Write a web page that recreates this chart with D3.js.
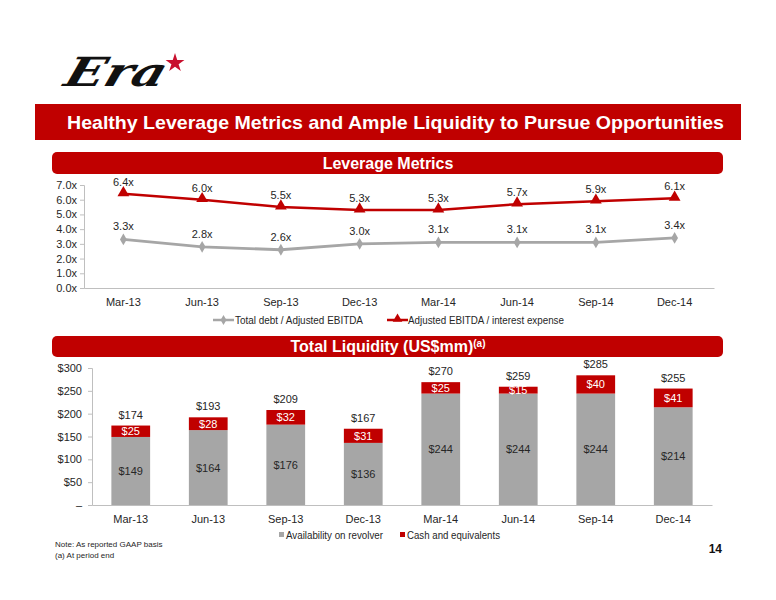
<!DOCTYPE html>
<html><head><meta charset="utf-8">
<script src="https://cdnjs.cloudflare.com/ajax/libs/d3/7.8.5/d3.min.js"></script>
<style>
body{margin:0;background:#fff;}
svg{display:block;font-family:"Liberation Sans",Arial,sans-serif;}
</style></head>
<body>
<svg id="c" width="776" height="600"></svg>
<script>
// ---- data ----
const categories = ["Mar-13","Jun-13","Sep-13","Dec-13","Mar-14","Jun-14","Sep-14","Dec-14"];
const debtToEbitda = [3.3,2.8,2.6,3.0,3.1,3.1,3.1,3.4];
const ebitdaToInterest = [6.4,6.0,5.5,5.3,5.3,5.7,5.9,6.1];
const leverageTicks = [0,1,2,3,4,5,6,7];
const revolver = [149,164,176,136,244,244,244,214];
const cash = [25,28,32,31,25,15,40,41];
const totalLiquidity = [174,193,209,167,270,259,285,255];
const liquidityTicks = [0,50,100,150,200,250,300];

const RED = "#c00000", GRAY = "#a6a6a6", TXT = "#262626";
const svg = d3.select("#c");

// ---- logo ----
const logo = svg.append("g");
logo.append("text").attr("x",62).attr("y",86)
  .attr("font-family","DejaVu Serif").attr("font-style","italic").attr("font-weight","bold")
  .attr("font-size",40).attr("textLength",100).attr("lengthAdjust","spacingAndGlyphs")
  .attr("transform","skewX(-18) translate(28,0)")
  .attr("fill","#111").text("Era");
logo.append("path").attr("d",d3.symbol(d3.symbolStar,110)())
  .attr("transform","translate(175,63)").attr("fill","#c8102e");

// ---- title bar ----
svg.append("rect").attr("x",35).attr("y",104).attr("width",706).attr("height",36).attr("fill",RED);
svg.append("text").attr("x",67).attr("y",129).attr("fill","#fff").attr("font-weight","bold")
  .attr("font-size",19).attr("textLength",657).attr("lengthAdjust","spacingAndGlyphs")
  .text("Healthy Leverage Metrics and Ample Liquidity to Pursue Opportunities");

// ---- section headers ----
function header(y, h){
  svg.append("rect").attr("x",52).attr("y",y).attr("width",671).attr("height",h).attr("rx",5).attr("fill",RED);
}
header(152,22);
svg.append("text").attr("x",388).attr("y",169).attr("text-anchor","middle").attr("fill","#fff")
  .attr("font-weight","bold").attr("font-size",16).text("Leverage Metrics");
header(336,21);
const t2 = svg.append("text").attr("x",388).attr("y",352).attr("text-anchor","middle").attr("fill","#fff")
  .attr("font-weight","bold").attr("font-size",16);
t2.append("tspan").text("Total Liquidity (US$mm)");
t2.append("tspan").attr("font-size",10).attr("dy",-5).text("(a)");

// ---- leverage chart ----
const x1 = d3.scaleBand().domain(categories).range([84,714]);
const y1 = d3.scaleLinear().domain([0,7]).range([288,185]);
const cx1 = d => x1(d) + x1.bandwidth()/2;

const ax1 = svg.append("g").attr("transform","translate(84,0)")
  .call(d3.axisLeft(y1).tickValues(leverageTicks).tickSize(4).tickPadding(3).tickFormat(d=>d3.format(".1f")(d)+"x"));
ax1.select(".domain").attr("stroke","#bfbfbf");
ax1.selectAll(".tick line").attr("stroke","#bfbfbf");
ax1.selectAll("text").attr("font-size",11).attr("fill",TXT).attr("font-family","Liberation Sans");

const bx1 = svg.append("g").attr("transform","translate(0,288)")
  .call(d3.axisBottom(x1).tickSize(0).tickPadding(10));
bx1.select(".domain").attr("stroke","#bfbfbf");
bx1.selectAll("text").attr("font-size",11).attr("fill",TXT).attr("font-family","Liberation Sans");

const line = (vals) => d3.line().x((d,i)=>cx1(categories[i])).y(d=>y1(d))(vals);
svg.append("path").attr("d",line(debtToEbitda)).attr("fill","none").attr("stroke",GRAY).attr("stroke-width",2.8);
svg.append("path").attr("d",line(ebitdaToInterest)).attr("fill","none").attr("stroke",RED).attr("stroke-width",2.5);

svg.selectAll(".dm").data(debtToEbitda).join("path")
  .attr("d",d3.symbol(d3.symbolDiamond,40)())
  .attr("transform",(d,i)=>`translate(${cx1(categories[i])},${y1(d)})`).attr("fill",GRAY);
svg.selectAll(".tr").data(ebitdaToInterest).join("path")
  .attr("d",d3.symbol(d3.symbolTriangle,60)())
  .attr("transform",(d,i)=>`translate(${cx1(categories[i])},${y1(d)-1})`).attr("fill",RED);

svg.selectAll(".lg").data(debtToEbitda).join("text")
  .attr("x",(d,i)=>cx1(categories[i])).attr("y",d=>y1(d)-9)
  .attr("text-anchor","middle").attr("font-size",11).attr("fill",TXT).text(d=>d3.format(".1f")(d)+"x");
svg.selectAll(".lr").data(ebitdaToInterest).join("text")
  .attr("x",(d,i)=>cx1(categories[i])).attr("y",d=>y1(d)-8)
  .attr("text-anchor","middle").attr("font-size",11).attr("fill",TXT).text(d=>d3.format(".1f")(d)+"x");

// legend 1
svg.append("line").attr("x1",213).attr("x2",234).attr("y1",320).attr("y2",320).attr("stroke",GRAY).attr("stroke-width",2.5);
svg.append("path").attr("d",d3.symbol(d3.symbolDiamond,30)()).attr("transform","translate(223.5,320)").attr("fill",GRAY);
svg.append("text").attr("x",235).attr("y",324).attr("font-size",10.5).attr("fill",TXT)
  .attr("textLength",128).attr("lengthAdjust","spacingAndGlyphs").text("Total debt / Adjusted EBITDA");
svg.append("line").attr("x1",387).attr("x2",408).attr("y1",320).attr("y2",320).attr("stroke",RED).attr("stroke-width",2.5);
svg.append("path").attr("d",d3.symbol(d3.symbolTriangle,40)()).attr("transform","translate(397.5,319)").attr("fill",RED);
svg.append("text").attr("x",408).attr("y",324).attr("font-size",10.5).attr("fill",TXT)
  .attr("textLength",156).attr("lengthAdjust","spacingAndGlyphs").text("Adjusted EBITDA / interest expense");

// ---- liquidity chart ----
const x2 = d3.scaleBand().domain(categories).range([92,712]).paddingInner(0.5).paddingOuter(0.25);
const y2 = d3.scaleLinear().domain([0,300]).range([505,368]);

const ax2 = svg.append("g").attr("transform","translate(92,0)")
  .call(d3.axisLeft(y2).tickValues(liquidityTicks).tickSize(4).tickPadding(6).tickFormat(d=>d===0?"–":"$"+d));
ax2.select(".domain").attr("stroke","#bfbfbf");
ax2.selectAll(".tick line").attr("stroke","#bfbfbf");
ax2.selectAll("text").attr("font-size",11).attr("fill",TXT).attr("font-family","Liberation Sans");

svg.selectAll(".bg").data(revolver).join("rect")
  .attr("x",(d,i)=>x2(categories[i])).attr("width",x2.bandwidth())
  .attr("y",d=>y2(d)).attr("height",d=>y2(0)-y2(d)).attr("fill",GRAY);
svg.selectAll(".br").data(cash).join("rect")
  .attr("x",(d,i)=>x2(categories[i])).attr("width",x2.bandwidth())
  .attr("y",(d,i)=>y2(revolver[i]+d)).attr("height",d=>y2(0)-y2(d)).attr("fill",RED);

const bx2 = svg.append("g").attr("transform","translate(0,505)")
  .call(d3.axisBottom(x2).tickSize(0).tickPadding(10));
bx2.select(".domain").attr("stroke","#bfbfbf");
bx2.selectAll("text").attr("font-size",11).attr("fill",TXT).attr("font-family","Liberation Sans");

const bc = i => x2(categories[i]) + x2.bandwidth()/2;
svg.selectAll(".lbg").data(revolver).join("text")
  .attr("x",(d,i)=>bc(i)).attr("y",d=>(y2(d)+y2(0))/2+4)
  .attr("text-anchor","middle").attr("font-size",11).attr("fill",TXT).text(d=>"$"+d);
svg.selectAll(".lbr").data(cash).join("text")
  .attr("x",(d,i)=>bc(i)).attr("y",(d,i)=>(y2(revolver[i]+d)+y2(revolver[i]))/2+4)
  .attr("text-anchor","middle").attr("font-size",11).attr("fill","#fff").text(d=>"$"+d);
svg.selectAll(".lbt").data(totalLiquidity).join("text")
  .attr("x",(d,i)=>bc(i)).attr("y",(d,i)=>y2(revolver[i]+cash[i])-7)
  .attr("text-anchor","middle").attr("font-size",11).attr("fill",TXT).text(d=>"$"+d);

// legend 2
svg.append("rect").attr("x",279).attr("y",532).attr("width",5).attr("height",5).attr("fill",GRAY);
svg.append("text").attr("x",286).attr("y",539).attr("font-size",10.5).attr("fill",TXT)
  .attr("textLength",97).attr("lengthAdjust","spacingAndGlyphs").text("Availability on revolver");
svg.append("rect").attr("x",400).attr("y",532).attr("width",5).attr("height",5).attr("fill",RED);
svg.append("text").attr("x",407).attr("y",539).attr("font-size",10.5).attr("fill",TXT)
  .attr("textLength",93).attr("lengthAdjust","spacingAndGlyphs").text("Cash and equivalents");

// footnotes
svg.append("text").attr("x",55).attr("y",547).attr("font-size",8).attr("fill",TXT).text("Note:  As reported GAAP basis");
svg.append("text").attr("x",55).attr("y",558).attr("font-size",8).attr("fill",TXT).text("(a)  At period end");
svg.append("text").attr("x",722).attr("y",553).attr("text-anchor","end").attr("font-size",12).attr("font-weight","bold").attr("fill","#111").text("14");
</script>
</body></html>
